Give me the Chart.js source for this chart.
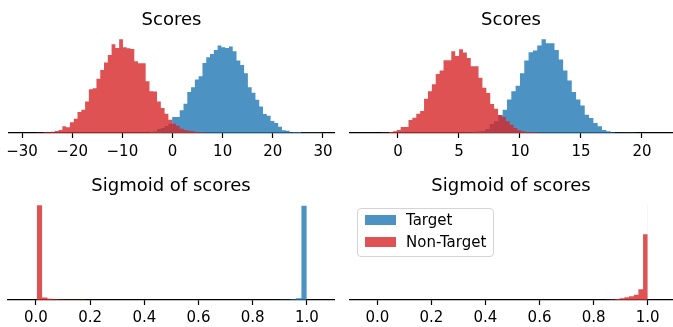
<!DOCTYPE html>
<html>
<head>
<meta charset="utf-8">
<script src="https://cdn.jsdelivr.net/npm/chart.js@4.4.1/dist/chart.umd.min.js"></script>
<style>
  html, body { margin: 0; padding: 0; background: #fff; }
  #wrap { position: relative; width: 673px; height: 327px; overflow: hidden; }
  #wrap canvas { position: absolute; }
  #legend {
    position: absolute; left: 357px; top: 208px; width: 137px; height: 49px;
    box-sizing: border-box; border: 1px solid #d4d4d4; border-radius: 4px;
    background: rgba(255, 255, 255, 0.8);
    font-family: 'DejaVu Sans', sans-serif; font-size: 15px; color: #000;
  }
  #legend .patch { position: absolute; left: 7px; width: 31px; height: 10px; }
  #legend .txt { position: absolute; left: 48px; line-height: 17px; white-space: nowrap; }
</style>
</head>
<body>
<div id="wrap">
  <canvas id="tl" width="340" height="165" style="left:0;top:0"></canvas>
  <canvas id="tr" width="333" height="165" style="left:340px;top:0"></canvas>
  <canvas id="bl" width="340" height="162" style="left:0;top:165px"></canvas>
  <canvas id="br" width="333" height="162" style="left:340px;top:165px"></canvas>
  <div id="legend">
    <div class="patch" style="top:6px;background:rgba(31,119,180,0.8)"></div>
    <div class="txt" style="top:3px">Target</div>
    <div class="patch" style="top:28px;background:rgba(214,39,40,0.8)"></div>
    <div class="txt" style="top:25px">Non-Target</div>
  </div>
</div>
<script>
console.log('histograms: start');

const BLUE = 'rgba(31,119,180,0.8)';
const RED = 'rgba(214,39,40,0.8)';

// --- panel 1: scores (left) ---
const tlRedStart = -28.0, tlRedWidth = 0.755;
const tlRedCounts = [1, 2, 3, 7, 7, 13, 20, 30, 67, 57, 107, 143, 210, 233, 317, 440, 450, 543, 633, 707,
  783, 890, 853, 940, 860, 850, 843, 720, 700, 700, 520, 420, 417, 317, 250, 193, 133, 93, 73, 43,
  30, 23, 17, 7, 7, 3];
const tlBlueStart = -4.6, tlBlueWidth = 0.755;
const tlBlueCounts = [7, 15, 40, 50, 70, 93, 160, 160, 227, 293, 410, 460, 537, 570, 703, 760, 793, 833, 877, 860,
  853, 867, 820, 727, 683, 600, 460, 403, 333, 267, 190, 173, 120, 100, 63, 27, 23, 7, 10, 10,
  3, 3, 3, 3, 3, 3];
const tlTicks = [-30, -20, -10, 0, 10, 20, 30];

// --- panel 2: scores (right) ---
const trRedStart = -1.37, trRedWidth = 0.319;
const trRedCounts = [3, 3, 10, 17, 30, 60, 60, 130, 153, 193, 220, 343, 420, 490, 593, 627, 730, 730, 820, 773,
  840, 807, 753, 670, 670, 553, 453, 400, 290, 243, 180, 160, 117, 83, 50, 27, 17, 10, 7, 7, 3];
const trBlueStart = 5.75, trBlueWidth = 0.354;
const trBlueCounts = [3, 7, 15, 20, 40, 90, 117, 177, 233, 337, 420, 473, 600, 727, 810, 827, 877, 940, 900, 900,
  833, 737, 627, 527, 410, 337, 277, 183, 150, 100, 67, 30, 17, 7, 3, 3, 3, 3, 3];
const trTicks = [0, 5, 10, 15, 20];

// --- panel 3: sigmoid (left) ---
const blRedStart = 0.003, blRedWidth = 0.0198;
const blRedCounts = [955, 25, 12, 8, 5, 3, 3, 2, 2, 1, 1, 1];
const blBlueStart = 0.861, blBlueWidth = 0.0198;
const blBlueCounts = [1, 1, 2, 3, 7, 17, 950];

// --- panel 4: sigmoid (right) ---
const brRedStart = 0.845, brRedWidth = 0.01725;
const brRedCounts = [3, 5, 10, 17, 27, 37, 53, 107, 660];
const brBlueStart = 0.999, brBlueWidth = 0.001;
const brBlueCounts = [950];

const sigTicks = [0, 0.2, 0.4, 0.6, 0.8, 1.0];

// bins -> step outline points (left edge carries the count)
function hist(start, width, counts) {
  const pts = [{ x: start, y: 0 }];
  counts.forEach((c, i) => pts.push({ x: start + i * width, y: c }));
  pts.push({ x: start + counts.length * width, y: 0 });
  return pts;
}

const minusFmt = v => (v < 0 ? '\u2212' + Math.abs(v) : String(v));
const plainFmt = v => String(v);
const oneDec = v => v.toFixed(1);

function makePanel(id, cfg) {
  const yMax = Math.max(...cfg.series.flatMap(s => s.counts)) * 1.05;
  const datasets = cfg.series.map(s => ({
    label: s.label,
    data: hist(s.start, s.width, s.counts),
    stepped: 'before',
    fill: 'origin',
    backgroundColor: s.color,
    borderColor: 'rgba(0,0,0,0)',
    borderWidth: 0,
    pointRadius: 0,
    order: s.order
  }));
  try {
    new Chart(document.getElementById(id), {
      type: 'line',
      data: { datasets: datasets },
      options: {
        responsive: false,
        animation: false,
        devicePixelRatio: 1,
        layout: { padding: { left: cfg.pad[0], right: cfg.pad[1], top: 0, bottom: 0 } },
        plugins: {
          legend: { display: false },
          tooltip: { enabled: false },
          title: {
            display: true, text: cfg.title, color: '#000',
            font: { family: 'DejaVu Sans', size: 18, weight: 'normal' },
            padding: { top: cfg.titlePad[0], bottom: cfg.titlePad[1] }
          }
        },
        scales: {
          x: {
            type: 'linear', min: cfg.xMin, max: cfg.xMax,
            afterBuildTicks: s => { s.ticks = cfg.ticks.map(v => ({ value: v })); },
            afterFit: s => { s.height = cfg.axisH; },
            ticks: {
              callback: cfg.fmt, color: '#000', padding: cfg.tickPad, maxRotation: 0, autoSkip: false,
              font: { family: 'DejaVu Sans', size: 15 }
            },
            grid: { drawOnChartArea: false, drawTicks: true, tickLength: 5, tickWidth: 1.2, tickColor: '#000' },
            border: { display: true, color: '#000', width: 1.2 }
          },
          y: { display: false, min: 0, max: yMax }
        }
      }
    });
  } catch (error) {
    console.error('makePanel: error in ' + id, error);
  }
}

makePanel('tl', {
  title: 'Scores', xMin: -32.6, xMax: 32.2, ticks: tlTicks, fmt: minusFmt,
  pad: [9, 6], axisH: 32, titlePad: [10, 3], tickPad: 5,
  series: [
    { label: 'Target', start: tlBlueStart, width: tlBlueWidth, counts: tlBlueCounts, color: BLUE, order: 2 },
    { label: 'Non-Target', start: tlRedStart, width: tlRedWidth, counts: tlRedCounts, color: RED, order: 1 }
  ]
});

makePanel('tr', {
  title: 'Scores', xMin: -3.93, xMax: 22.46, ticks: trTicks, fmt: plainFmt,
  pad: [10, 1], axisH: 32, titlePad: [10, 3], tickPad: 5,
  series: [
    { label: 'Target', start: trBlueStart, width: trBlueWidth, counts: trBlueCounts, color: BLUE, order: 2 },
    { label: 'Non-Target', start: trRedStart, width: trRedWidth, counts: trRedCounts, color: RED, order: 1 }
  ]
});

makePanel('bl', {
  title: 'Sigmoid of scores', xMin: -0.103, xMax: 1.10, ticks: sigTicks, fmt: oneDec,
  pad: [8, 6], axisH: 27, titlePad: [11, 3], tickPad: 4,
  series: [
    { label: 'Target', start: blBlueStart, width: blBlueWidth, counts: blBlueCounts, color: BLUE, order: 2 },
    { label: 'Non-Target', start: blRedStart, width: blRedWidth, counts: blRedCounts, color: RED, order: 1 }
  ]
});

makePanel('br', {
  title: 'Sigmoid of scores', xMin: -0.101, xMax: 1.09, ticks: sigTicks, fmt: oneDec,
  pad: [10, 1], axisH: 27, titlePad: [11, 3], tickPad: 4,
  series: [
    { label: 'Target', start: brBlueStart, width: brBlueWidth, counts: brBlueCounts, color: BLUE, order: 2 },
    { label: 'Non-Target', start: brRedStart, width: brRedWidth, counts: brRedCounts, color: RED, order: 1 }
  ]
});

console.log('histograms: done');
</script>
</body>
</html>
